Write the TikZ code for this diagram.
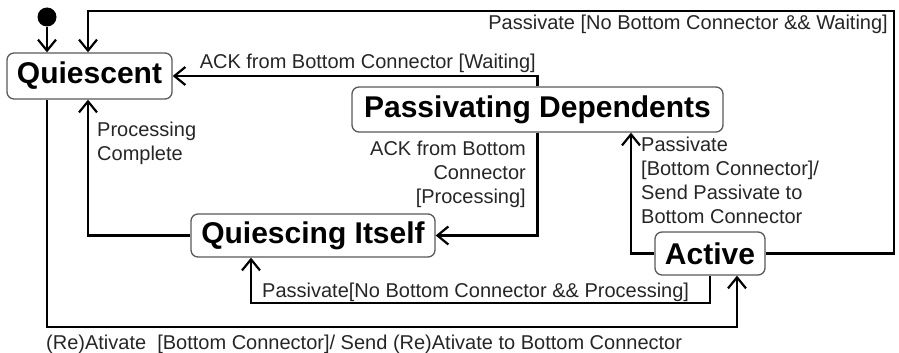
\documentclass[tikz,border=0pt]{standalone}
\usepackage{fontspec}
\setmainfont{Liberation Sans}
\usetikzlibrary{arrows.meta}
\begin{document}
\begin{tikzpicture}[x=1pt,y=-1pt,
  statebox/.style={draw=black!65, line width=1.3pt, rounded corners=7pt, fill=white,
    inner sep=0pt, font=\fontsize{30}{34}\selectfont\bfseries},
  lbl/.style={inner sep=0pt, text=black!85, font=\fontsize{20}{24}\selectfont},
  conn/.style={line width=2.6pt, draw=black, line join=miter},
  arr/.style={conn, -{Straight Barb[length=11pt,width=18pt,line width=2.2pt]}}]
\useasboundingbox (0,0) rectangle (899,353);
% states
\node[statebox, minimum width=165pt, minimum height=46pt] (q) at (89.5,76) {Quiescent};
\node[statebox, minimum width=371pt, minimum height=45pt] (pd) at (537.5,109.5) {Passivating Dependents};
\node[statebox, minimum width=244pt, minimum height=43pt] (qi) at (313,235.5) {Quiescing Itself};
\node[statebox, minimum width=110pt, minimum height=43pt] (a) at (710,253.5) {Active};
\node[circle, fill=black, inner sep=0pt, minimum size=19pt] (init) at (47,17) {};
% helper coordinates
\coordinate (tr) at (894,11);
\coordinate (tl) at (88,11);
\coordinate (bl) at (47,327);
\coordinate (br) at (737,327);
\coordinate (m) at (251,303);
\coordinate (lx) at (631,0);
% connectors
\draw[arr] (init) -- (init |- q.north);
\draw[arr] (a.east) -| (tr) -| (tl |- q.north);
\draw[arr] (pd.north) |- (q.east);
\draw[arr] (pd.south) |- (qi.east);
\draw[arr] (qi.west) -| (tl |- q.south);
\draw[arr] (q.south -| bl) -- (bl) -- (br) -- (br |- a.south);
\draw[arr] (a.south) |- (m) -- (m |- qi.south);
\draw[arr] (a.west) -| (lx |- pd.south);
% labels
\node[lbl, anchor=base east] (l1) at (888,29.5) {Passivate [No Bottom Connector \&\& Waiting]};
\node[lbl, anchor=base east] (l2) at (536,68) {ACK from Bottom Connector [Waiting]};
\node[lbl, anchor=base east, align=right] (l3) at (526,203) {ACK from Bottom\\Connector\\{}[Processing]};
\node[lbl, anchor=base west, align=left] (l4) at (97,160) {Processing\\Complete};
\node[lbl, anchor=base west, align=left] (l5) at (641,223) {Passivate\\{}[Bottom Connector]/\\Send Passivate to\\Bottom Connector};
\node[lbl, anchor=base west] (l6) at (262,297) {Passivate[No Bottom Connector \&\& Processing]};
\node[lbl, anchor=base west] (l7) at (46,349) {(Re)Ativate\ \ [Bottom Connector]/ Send (Re)Ativate to Bottom Connector};
\end{tikzpicture}
\end{document}
